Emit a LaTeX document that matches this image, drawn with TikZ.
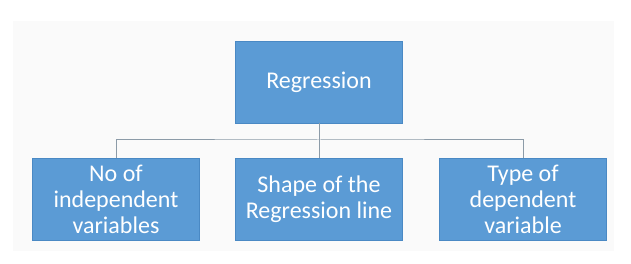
\documentclass[tikz,border=0pt]{standalone}
\usepackage{fontspec}
\setmainfont{Carlito}
\usetikzlibrary{positioning}

\definecolor{boxblue}{HTML}{5B9BD5}
\definecolor{boxedge}{HTML}{4A89C4}
\definecolor{linegray}{HTML}{8C9BA8}
\definecolor{slidebg}{HTML}{FAFAFA}

\begin{document}
\begin{tikzpicture}[x=1pt,y=-1pt,
  topic/.style={draw=boxedge,fill=boxblue,line width=0.8pt,text=white,
    minimum width=167pt,minimum height=82pt,align=center,inner sep=2pt,
    font=\fontsize{24}{26}\selectfont},
  conn/.style={linegray,line width=1pt}]
  \useasboundingbox (0,0) rectangle (631,264);
  % fondo de la diapositiva
  \fill[slidebg] (13,21) rectangle (614,251);
  % cajas
  \node[topic] (reg) at (319,82){Regression};
  \node[topic] (shape) at (319,199){Shape of the\\Regression line};
  \node[topic] (indep) at (116,199){No of\\independent\\variables};
  \node[topic] (dep) at (523,199){Type of\\dependent\\variable};
  % conectores
  \coordinate (bus) at (319,140);
  \draw[conn] (reg.south) -- (shape.north);
  \draw[conn] (indep.north) |- (bus) -| (dep.north);
\end{tikzpicture}
\end{document}
